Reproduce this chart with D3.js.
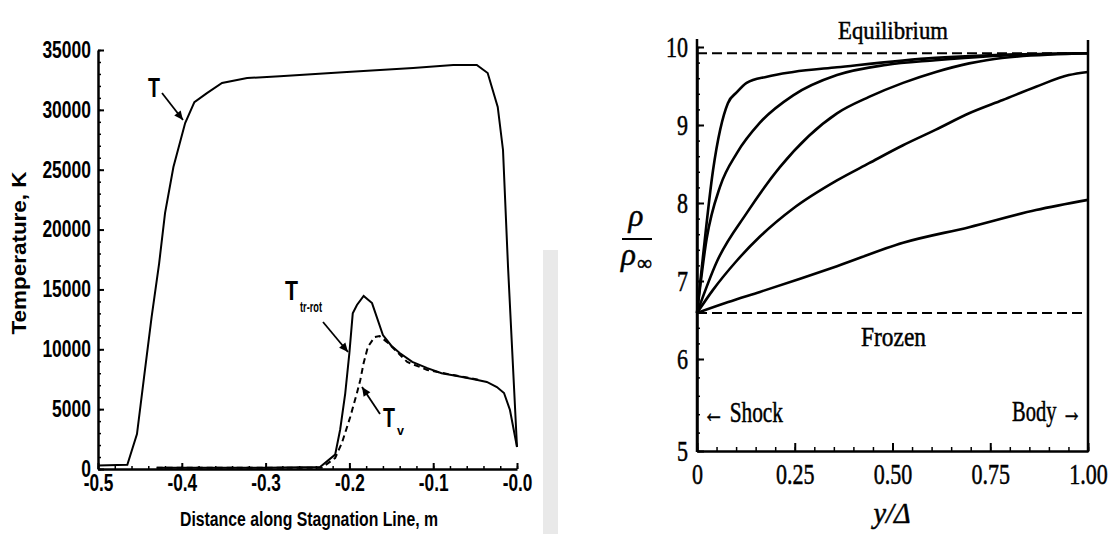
<!DOCTYPE html>
<html><head><meta charset="utf-8">
<script src="https://cdn.jsdelivr.net/npm/d3@7"></script>
<style>body{margin:0;background:#fff}svg{display:block}</style>
</head><body>
<svg id="c" width="1111" height="534"></svg>
<script>
// ---------- LEFT CHART DATA (Temperature along stagnation line) ----------
const xTicksL = [-0.5, -0.4, -0.3, -0.2, -0.1, 0];
const xTickLabelsL = ["-0.5", "-0.4", "-0.3", "-0.2", "-0.1", "-0.0"];
const yTicksL = [0, 5000, 10000, 15000, 20000, 25000, 30000, 35000];

const tX = [-0.5, -0.465, -0.4535, -0.445, -0.436, -0.427, -0.42, -0.41, -0.396, -0.385, -0.37, -0.352, -0.322, -0.283, -0.203, -0.124, -0.076, -0.048, -0.035, -0.023, -0.0167, -0.0107, 0.0];
const tY = [300, 350, 2920, 7690, 12700, 17200, 21380, 25220, 28900, 30650, 31400, 32240, 32660, 32800, 33160, 33500, 33750, 33750, 33080, 30240, 26650, 16870, 1840];

const trX = [-0.43, -0.3, -0.235, -0.217, -0.211, -0.205, -0.2, -0.196, -0.191, -0.183, -0.173, -0.16, -0.15, -0.14, -0.125, -0.107, -0.09, -0.0716, -0.05, -0.036, -0.024, -0.0155, -0.0084, 0.0];
const trY = [100, 100, 170, 1200, 3300, 6300, 9700, 13000, 13700, 14450, 13860, 11190, 10300, 9690, 8950, 8430, 8000, 7770, 7480, 7270, 6850, 6350, 4930, 1840];

const tvX = [-0.43, -0.3, -0.233, -0.217, -0.209, -0.199, -0.191, -0.187, -0.183, -0.178, -0.17, -0.164, -0.155, -0.131, -0.107, -0.076, -0.044];
const tvY = [100, 100, 100, 920, 2170, 4340, 6350, 7430, 8850, 10190, 11020, 11100, 10600, 8940, 8270, 7850, 7430];

// ---------- RIGHT CHART DATA (density ratio across shock layer) ----------
const xTicksR = [0, 0.25, 0.5, 0.75, 1];
const xTickLabelsR = ["0", "0.25", "0.50", "0.75", "1.00"];
const yTicksR = [5, 6, 7, 8, 9, 10];

const c1X = [0, 0.015, 0.041, 0.079, 0.102, 0.127, 0.179, 0.246, 0.358, 0.61, 0.78, 1.0];
const c1Y = [6.59, 7.3, 8.42, 9.28, 9.42, 9.54, 9.62, 9.68, 9.74, 9.86, 9.9, 9.92];
const c2X = [0, 0.025, 0.059, 0.102, 0.161, 0.246, 0.358, 0.483, 0.61, 0.74, 1.0];
const c2Y = [6.59, 7.55, 8.21, 8.64, 9.03, 9.38, 9.64, 9.77, 9.83, 9.88, 9.92];
const c3X = [0, 0.051, 0.127, 0.212, 0.358, 0.44, 0.527, 0.611, 0.696, 0.78, 1.0];
const c3Y = [6.59, 7.25, 7.87, 8.46, 9.15, 9.36, 9.54, 9.68, 9.79, 9.86, 9.92];
const c4X = [0, 0.04, 0.1, 0.161, 0.246, 0.358, 0.44, 0.527, 0.611, 0.696, 0.782, 0.867, 0.951, 1.0];
const c4Y = [6.59, 6.88, 7.25, 7.57, 7.93, 8.29, 8.51, 8.74, 8.94, 9.15, 9.32, 9.49, 9.64, 9.68];
const c5X = [0, 0.08, 0.161, 0.358, 0.527, 0.696, 0.867, 1.0];
const c5Y = [6.59, 6.73, 6.86, 7.19, 7.49, 7.69, 7.91, 8.04];
const equilibriumY = 9.92;
const frozenY = 6.59;

// ---------- helpers ----------
const svg = d3.select('#c');
const SANS = "'Liberation Sans', Arial, Helvetica, sans-serif";
const SERIF = "'Liberation Serif', 'Times New Roman', serif";
function squeeze(sel, k) {
  sel.each(function () {
    const L = this.getComputedTextLength();
    d3.select(this).attr('textLength', L * k).attr('lengthAdjust', 'spacingAndGlyphs');
  });
}
function fitW(sel, w) { return sel.attr('textLength', w).attr('lengthAdjust', 'spacingAndGlyphs'); }
const zip = (a, b) => a.map((v, i) => [v, b[i]]);

const defs = svg.append('defs');
defs.append('marker').attr('id', 'ah').attr('viewBox', '0 0 10 10')
  .attr('refX', 10).attr('refY', 5).attr('markerWidth', 11).attr('markerHeight', 9)
  .attr('markerUnits', 'userSpaceOnUse').attr('orient', 'auto')
  .append('path').attr('d', 'M0,0.5 L10,5 L0,9.5 Z').attr('fill', '#000');

// scan artefact band
svg.append('rect').attr('x', 543).attr('y', 250).attr('width', 15).attr('height', 284).attr('fill', '#e9e9e9');

// ================= LEFT CHART =================
const xL = d3.scaleLinear().domain([-0.5, 0]).range([98, 517]);
const yL = d3.scaleLinear().domain([0, 35000]).range([469, 50]);
const L = svg.append('g');

// minor ticks
L.append('g').attr('transform', 'translate(0,469)')
  .call(d3.axisBottom(xL).tickValues(d3.range(0, 26).map(i => -0.5 + i * 0.02)).tickSize(-3).tickFormat(''))
  .call(g => g.select('.domain').remove())
  .call(g => g.selectAll('line').attr('stroke-width', 1.5));
L.append('g').attr('transform', 'translate(98,0)')
  .call(d3.axisLeft(yL).tickValues(d3.range(0, 35001, 1000)).tickSize(-3).tickFormat(''))
  .call(g => g.select('.domain').remove())
  .call(g => g.selectAll('line').attr('stroke-width', 1.5));

const gxL = L.append('g').attr('transform', 'translate(0,469)')
  .call(d3.axisBottom(xL).tickValues(xTicksL).tickFormat((d, i) => xTickLabelsL[i]).tickSize(-6).tickSizeOuter(0).tickPadding(6));
const gyL = L.append('g').attr('transform', 'translate(98,0)')
  .call(d3.axisLeft(yL).tickValues(yTicksL).tickFormat(d3.format('d')).tickSize(-6).tickSizeOuter(0).tickPadding(7));
[gxL, gyL].forEach(g => {
  g.select('.domain').attr('stroke-width', 2.5);
  g.selectAll('.tick line').attr('stroke-width', 2);
  g.selectAll('text').attr('font-family', SANS).attr('font-weight', 'bold').attr('font-size', 23).attr('fill', '#000');
});
squeeze(gxL.selectAll('text'), 0.75);
squeeze(gyL.selectAll('text'), 0.76);

const lineL = d3.line().x(d => xL(d[0])).y(d => yL(d[1]));
L.append('path').attr('d', lineL(zip(tX, tY))).attr('fill', 'none').attr('stroke', '#000').attr('stroke-width', 2);
L.append('path').attr('d', lineL(zip(trX, trY))).attr('fill', 'none').attr('stroke', '#000').attr('stroke-width', 2);
L.append('path').attr('d', lineL(zip(tvX, tvY))).attr('fill', 'none').attr('stroke', '#000').attr('stroke-width', 2).attr('stroke-dasharray', '6,4');

// axis titles
fitW(L.append('text').attr('transform', 'translate(26,253) rotate(-90)').attr('text-anchor', 'middle')
  .attr('font-family', SANS).attr('font-weight', 'bold').attr('font-size', 20).text('Temperature, K'), 163);
fitW(L.append('text').attr('x', 309).attr('y', 526).attr('text-anchor', 'middle')
  .attr('font-family', SANS).attr('font-weight', 'bold').attr('font-size', 20).text('Distance along Stagnation Line, m'), 258);

// annotations
function lab(x, y, fs, w, t) {
  return fitW(L.append('text').attr('x', x).attr('y', y).attr('font-family', SANS).attr('font-weight', 'bold').attr('font-size', fs).text(t), w);
}
lab(148, 97, 28, 12, 'T');
lab(285, 300, 28, 13, 'T');
lab(300, 312, 15, 22, 'tr-rot');
lab(383, 427, 28, 12, 'T');
lab(397, 435, 13, 7, 'v');
function arrow(x1, y1, x2, y2) {
  L.append('line').attr('x1', x1).attr('y1', y1).attr('x2', x2).attr('y2', y2)
    .attr('stroke', '#000').attr('stroke-width', 1.8).attr('marker-end', 'url(#ah)');
}
arrow(162, 93, 183, 120);
arrow(323, 322, 348, 352);
arrow(380, 414, 362, 387);

// ================= RIGHT CHART =================
const xR = d3.scaleLinear().domain([0, 1]).range([697, 1088]);
const yR = d3.scaleLinear().domain([5, 6, 10]).range([451, 359, 47]);
const R = svg.append('g');

R.append('g').attr('transform', 'translate(0,451)')
  .call(d3.axisBottom(xR).tickValues(d3.range(0, 21).map(i => i * 0.05)).tickSize(-4).tickFormat(''))
  .call(g => g.select('.domain').remove())
  .call(g => g.selectAll('line').attr('stroke-width', 1.5));
R.append('g').attr('transform', 'translate(697,0)')
  .call(d3.axisLeft(yR).tickValues(d3.range(0, 26).map(i => 5 + i * 0.2)).tickSize(-3).tickFormat(''))
  .call(g => g.select('.domain').remove())
  .call(g => g.selectAll('line').attr('stroke-width', 1.5));

const gxR = R.append('g').attr('transform', 'translate(0,451)')
  .call(d3.axisBottom(xR).tickValues(xTicksR).tickFormat((d, i) => xTickLabelsR[i]).tickSize(-8).tickSizeOuter(0).tickPadding(12));
const gyR = R.append('g').attr('transform', 'translate(697,0)')
  .call(d3.axisLeft(yR).tickValues(yTicksR).tickFormat(d3.format('d')).tickSize(-7).tickSizeOuter(0).tickPadding(9));
[gxR, gyR].forEach(g => {
  g.select('.domain').attr('stroke-width', 2.5);
  g.selectAll('.tick line').attr('stroke-width', 2);
  g.selectAll('text').attr('font-family', SERIF).attr('font-size', 29).attr('fill', '#000')
    .attr('stroke', '#000').attr('stroke-width', 0.5);
});
squeeze(gxR.selectAll('text'), 0.76);
squeeze(gyR.selectAll('text'), 0.76);
// axis line extension and right frame
R.append('line').attr('x1', 697).attr('x2', 697).attr('y1', 39).attr('y2', 452).attr('stroke', '#000').attr('stroke-width', 2.5);
R.append('line').attr('x1', 1088).attr('x2', 1088).attr('y1', 40).attr('y2', 452).attr('stroke', '#000').attr('stroke-width', 2.5);

const lineR = d3.line().x(d => xR(d[0])).y(d => yR(d[1])).curve(d3.curveMonotoneX);
[[c1X, c1Y], [c2X, c2Y], [c3X, c3Y], [c4X, c4Y], [c5X, c5Y]].forEach(([a, b]) => {
  R.append('path').attr('d', lineR(zip(a, b))).attr('fill', 'none').attr('stroke', '#000').attr('stroke-width', 2.6);
});
[equilibriumY, frozenY].forEach(v => {
  R.append('path').attr('d', d3.line().x(d => xR(d[0])).y(d => yR(d[1]))([[0, v], [1, v]]))
    .attr('fill', 'none').attr('stroke', '#000').attr('stroke-width', 2).attr('stroke-dasharray', '10,5');
});

function rlab(x, y, fs, w, t, anchor, italic) {
  const s = R.append('text').attr('x', x).attr('y', y).attr('font-family', SERIF).attr('font-size', fs)
    .attr('text-anchor', anchor || 'start').attr('font-style', italic ? 'italic' : 'normal')
    .attr('stroke', '#000').attr('stroke-width', 0.5).text(t);
  if (w) fitW(s, w);
  return s;
}
rlab(838, 39, 26, 110, 'Equilibrium');
rlab(861, 346, 27, 65, 'Frozen');
rlab(703, 422, 30, 80, '\u2190 Shock');
rlab(1012, 421, 30, 70, 'Body \u2192');
// rho / rho_inf
rlab(636, 226, 31, null, '\u03C1', 'middle', true);
R.append('line').attr('x1', 622).attr('x2', 652).attr('y1', 239).attr('y2', 239).attr('stroke', '#000').attr('stroke-width', 2);
rlab(621, 265, 31, null, '\u03C1', 'start', true);
rlab(637, 270, 21, null, '\u221E', 'start', false);
rlab(892, 523, 30, 37, 'y/\u0394', 'middle', true);
</script>
</body></html>
